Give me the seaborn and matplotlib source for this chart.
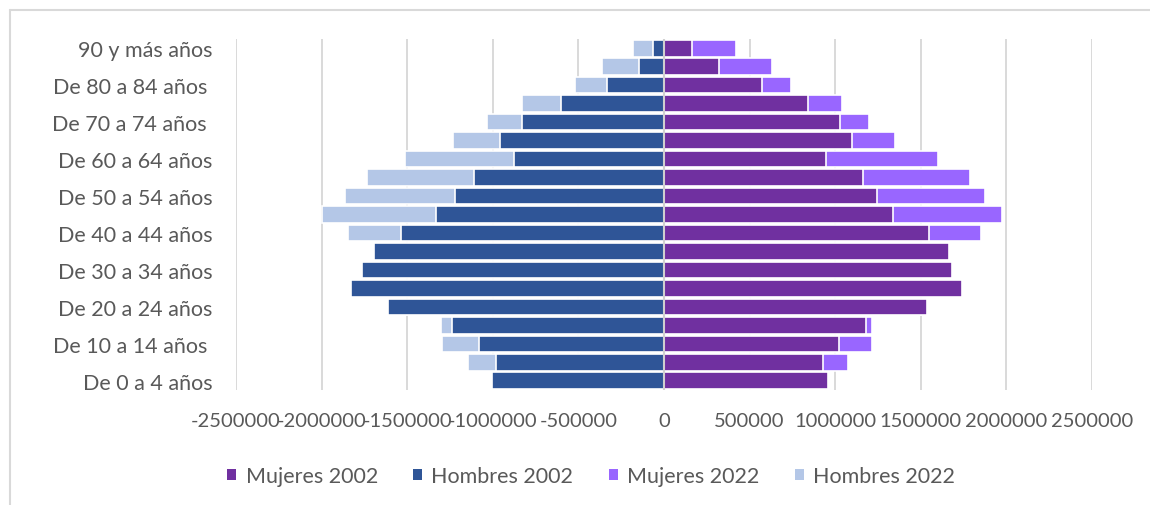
import numpy as np
import pandas as pd
import matplotlib
matplotlib.use("Agg")
import matplotlib.pyplot as plt
import seaborn as sns
from matplotlib.patches import Patch
from matplotlib.lines import Line2D

# Age groups, youngest first
grupos = [
    "De 0 a 4 años", "De 5 a 9 años", "De 10 a 14 años ", "De 15 a 19 años",
    "De 20 a 24 años", "De 25 a 29 años", "De 30 a 34 años", "De 35 a 39 años",
    "De 40 a 44 años", "De 45 a 49 años", "De 50 a 54 años", "De 55 a 59 años",
    "De 60 a 64 años", "De 65 a 69 años", "De 70 a 74 años ", "De 75 a 79 años",
    "De 80 a 84 años ", "De 85 a 89 años", "90 y más años",
]

# Population by sex (men shown to the left as negatives)
hombres_2002 = [1005000, 979000, 1081000, 1238000, 1612000, 1828000, 1762000,
                1696000, 1538000, 1332000, 1218000, 1107000, 876000, 960000,
                829000, 603000, 333000, 146000, 62000]
hombres_2022 = [0, 166000, 213000, 66000, 0, 0, 0, 0, 308000, 663000, 647000,
                628000, 634000, 270000, 205000, 226000, 187000, 214000, 121000]
mujeres_2002 = [956000, 929000, 1020000, 1180000, 1536000, 1741000, 1685000,
                1665000, 1546000, 1340000, 1246000, 1162000, 949000, 1096000,
                1030000, 843000, 572000, 320000, 162000]
mujeres_2022 = [0, 148000, 197000, 37000, 0, 0, 0, 0, 306000, 634000, 627000,
                625000, 651000, 252000, 170000, 197000, 168000, 309000, 261000]

series = ["Mujeres 2002", "Hombres 2002", "Mujeres 2022", "Hombres 2022"]
colores = {"Mujeres 2002": "#7030A0", "Hombres 2002": "#2F5597",
           "Mujeres 2022": "#9966FF", "Hombres 2022": "#B4C7E7"}

ticks_x = [-2500000, -2000000, -1500000, -1000000, -500000,
           0, 500000, 1000000, 1500000, 2000000, 2500000]

df = pd.DataFrame({
    "grupo": grupos,
    "h02": -np.array(hombres_2002),
    "h22": -np.array(hombres_2022),
    "m02": np.array(mujeres_2002),
    "m22": np.array(mujeres_2022),
})
# 2022 segments are stacked after the 2002 ones
df["h_total"] = df["h02"] + df["h22"]
df["m_total"] = df["m02"] + df["m22"]

sns.set_style("white")
plt.rcParams["font.family"] = ["Lato", "DejaVu Sans"]
plt.rcParams["axes.unicode_minus"] = False

texto = "#595959"
fs_x = 14.5
fs_txt = 15.5

fig = plt.figure(figsize=(11.5, 5.06), dpi=100)
ax = fig.add_axes([236 / 1150, 115 / 506, 856 / 1150, 351 / 506])

orden = grupos[::-1]
comun = dict(y="grupo", data=df, order=orden, orient="h", width=0.9,
             edgecolor="white", linewidth=1.2, errorbar=None, ax=ax, zorder=2)

sns.barplot(x="h_total", color=colores["Hombres 2022"], saturation=1, **comun)
sns.barplot(x="m_total", color=colores["Mujeres 2022"], saturation=1, **comun)
sns.barplot(x="h02", color=colores["Hombres 2002"], saturation=1, **comun)
sns.barplot(x="m02", color=colores["Mujeres 2002"], saturation=1, **comun)

ax.set_xlim(-2500000, 2500000)
ax.set_ylim(len(grupos) - 0.5, -0.5)
ax.set_xticks(ticks_x)
ax.set_xticklabels([str(t) for t in ticks_x])
ax.xaxis.grid(True, color="#d9d9d9", linewidth=1.4, zorder=0)
ax.set_axisbelow(True)
ax.axvline(0, color="#d0d0d0", linewidth=1.5, zorder=3)

etiquetas = []
for p, g in enumerate(orden):
    r = len(grupos) - 1 - p
    etiquetas.append(g if r % 2 == 0 else "")
ax.set_yticks(range(len(orden)))
ax.set_yticklabels(etiquetas)

ax.set_xlabel("")
ax.set_ylabel("")
ax.tick_params(axis="both", length=0, labelcolor=texto)
ax.tick_params(axis="x", pad=16, labelsize=fs_x)
ax.tick_params(axis="y", pad=17, labelsize=fs_txt)
for s in ax.spines.values():
    s.set_visible(False)

handles = [Patch(facecolor=colores[s], edgecolor="none", label=s) for s in series]
fig.legend(handles=handles, loc="center", bbox_to_anchor=(591 / 1150, 1 - 477 / 506),
           ncol=4, frameon=False, fontsize=fs_txt, labelcolor=texto,
           handlelength=0.42, handleheight=0.42, handletextpad=0.42,
           columnspacing=1.65)

# Chart frame
fig.add_artist(Line2D([10 / 1150, 1.0], [1 - 11 / 506, 1 - 11 / 506],
                      transform=fig.transFigure, color="#d9d9d9", linewidth=1.5))
fig.add_artist(Line2D([10 / 1150, 10 / 1150], [0.0, 1 - 11 / 506],
                      transform=fig.transFigure, color="#d9d9d9", linewidth=1.5))

fig.savefig("out.png", dpi=100, facecolor="white")
